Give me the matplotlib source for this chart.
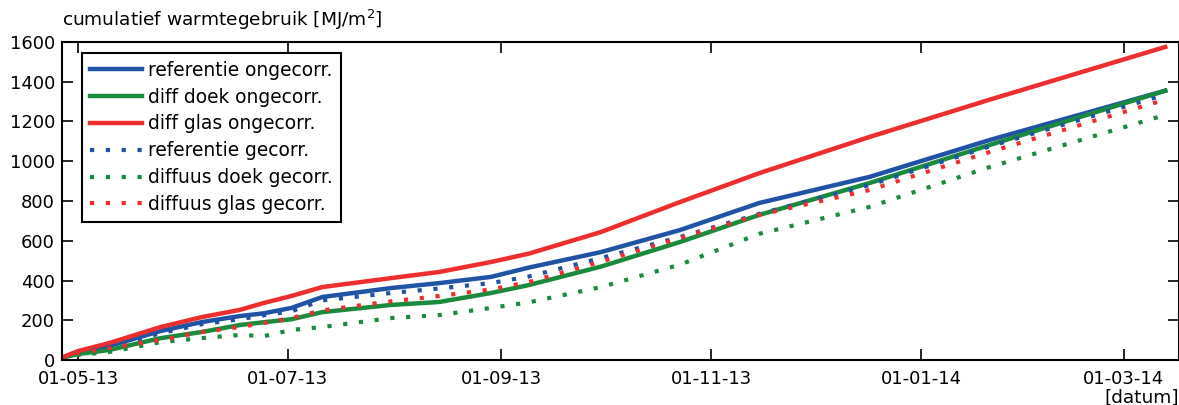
import numpy as np
import pandas as pd
import matplotlib
matplotlib.use("Agg")
import matplotlib.pyplot as plt
import matplotlib.dates as mdates

# sample dates
dates = ["2013-04-26", "2013-05-01", "2013-05-10", "2013-05-25", "2013-06-06", "2013-06-17",
         "2013-06-24", "2013-07-02", "2013-07-11", "2013-07-31", "2013-08-14", "2013-08-29",
         "2013-09-09", "2013-09-30", "2013-10-23", "2013-11-15", "2013-12-17", "2014-01-21",
         "2014-03-13"]

# cumulative heat use [MJ/m2]
refUncorr = [10, 40, 70, 146, 191, 221, 235, 262, 317, 362, 387, 418, 465, 543, 654, 790, 921, 1107, 1355]
doekUncorr = [10, 30, 50, 110, 141, 176, 190, 205, 241, 277, 292, 337, 377, 470, 594, 730, 890, 1082, 1355]
glasUncorr = [10, 45, 85, 166, 216, 252, 287, 322, 367, 412, 443, 493, 535, 644, 795, 940, 1122, 1310, 1575]
refCorr = [10, 35, 65, 135, 180, 205, 225, 245, 300, 337, 360, 387, 420, 513, 619, 735, 880, 1075, 1335]
doekCorr = [10, 25, 40, 90, 110, 126, 120, 151, 166, 211, 226, 262, 290, 367, 480, 635, 770, 971, 1233]
glasCorr = [10, 35, 60, 100, 141, 166, 186, 211, 250, 295, 322, 355, 392, 495, 614, 730, 855, 1047, 1310]

labels = ["referentie ongecorr.", "diff doek ongecorr.", "diff glas ongecorr.",
          "referentie gecorr.", "diffuus doek gecorr.", "diffuus glas gecorr."]

blue = "#2153a5"
green = "#1a8a3d"
red = "#ee2e2e"

t = pd.to_datetime(dates)

plt.rcParams["font.family"] = "DejaVu Sans"
plt.rcParams["font.size"] = 13

fig = plt.figure(figsize = (11.79, 4.05), dpi = 100)
ax = fig.add_axes([62 / 1179, 45 / 405, 1 - 62 / 1179, 318 / 405])

solidWidth = 3.2
dotWidth = 3.0
dots = (1.0, 2.8)

ax.plot(t, refUncorr, color = blue, lw = solidWidth, label = labels[0])
ax.plot(t, doekUncorr, color = green, lw = solidWidth, label = labels[1])
ax.plot(t, glasUncorr, color = red, lw = solidWidth, label = labels[2])
ax.plot(t, refCorr, color = blue, lw = dotWidth, dashes = dots, label = labels[3])
ax.plot(t, doekCorr, color = green, lw = dotWidth, dashes = dots, label = labels[4])
ax.plot(t, glasCorr, color = red, lw = dotWidth, dashes = dots, label = labels[5])

ax.set_xlim(pd.Timestamp("2013-04-26 08:00"), pd.Timestamp("2014-03-17"))
ax.set_ylim(0, 1600)
ax.set_yticks(np.arange(0, 1601, 200))
ax.xaxis.set_major_locator(mdates.MonthLocator(bymonth = [1, 3, 5, 7, 9, 11]))
ax.xaxis.set_major_formatter(mdates.DateFormatter("%d-%m-%y"))

ax.tick_params(direction = "in", length = 8, width = 1.2, top = True, right = True, labelsize = 13)
ax.tick_params(axis = "x", pad = 7)
ax.tick_params(axis = "y", pad = 5)
for s in ax.spines.values():
	s.set_linewidth(1.5)

ax.text(0, 1.03, "cumulatief warmtegebruik [MJ/m$^2$]", transform = ax.transAxes,
	ha = "left", va = "bottom", fontsize = 13.3)
fig.text(1.0, -0.005, "[datum]", ha = "right", va = "bottom", fontsize = 13.3)

leg = ax.legend(loc = "upper left", bbox_to_anchor = (20 / 1117, 1 - 11 / 318), borderaxespad = 0,
	fancybox = False, framealpha = 1, edgecolor = "black", handlelength = 2.8,
	handletextpad = 0.33, labelspacing = 0.42, borderpad = 0.42, fontsize = 13.4)
leg.get_frame().set_linewidth(1.5)

fig.savefig("out.png", dpi = 100)
